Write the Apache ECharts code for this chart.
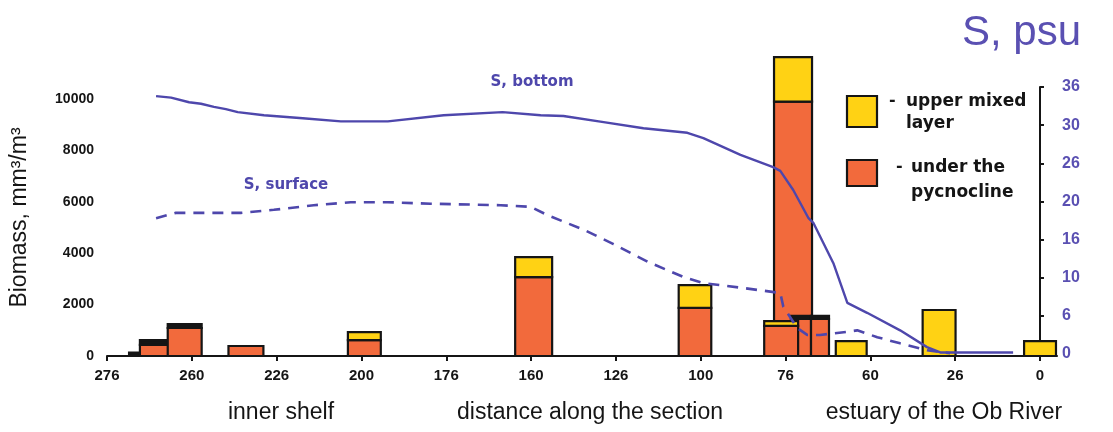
<!DOCTYPE html>
<html>
<head>
<meta charset="utf-8">
<script src="https://cdn.jsdelivr.net/npm/echarts@6/dist/echarts.min.js"></script>
<style>
html,body{margin:0;padding:0;background:#fff;}
#chart{width:1113px;height:432px;}
</style>
</head>
<body>
<div id="chart"></div>
<script>
// ---- data ----
// distance ticks (km along the section) and their printed labels
const xTickValues = [275, 250, 225, 200, 175, 150, 125, 100, 75, 50, 25, 0];
const xTickLabels = ['276', '260', '226', '200', '176', '160', '126', '100', '76', '60', '26', '0'];
// salinity axis tick labels (values 0..35 step 5)
const sTickValues = [0, 5, 10, 15, 20, 25, 30, 35];
const sTickLabels = ['0', '6', '10', '16', '20', '26', '30', '36'];
// biomass axis ticks
const bTickValues = [0, 2000, 4000, 6000, 8000, 10000];
const bTickLabels = ['0', '2000', '4000', '6000', '8000', '10000'];

// biomass bars: distance span (from, to), under the pycnocline, upper mixed layer, dark top
const barFrom  = [268.5, 265.3, 257.1, 239.2, 204.0, 154.7, 106.5, 78.4, 73.4, 67.5, 81.3, 60.2, 34.6, 4.7];
const barTo    = [265.0, 255.3, 247.1, 228.9, 194.3, 143.8, 96.9, 67.2, 67.5, 62.2, 71.3, 51.1, 24.9, -4.7];
const underPyc = [0, 430, 1090, 390, 620, 3070, 1870, 9900, 1440, 1440, 1170, 0, 0, 0];
const upperMix = [0, 0, 0, 0, 310, 780, 890, 1730, 0, 0, 190, 580, 1790, 580];
const darkTop  = [130, 190, 155, 0, 0, 0, 0, 0, 120, 120, 0, 0, 0, 0];

// salinity, bottom
const bottomDist = [259.7, 255.3, 250.0, 246.5, 242.7, 239.2, 235.7, 228.0, 216.6, 205.4, 191.6, 175.2, 157.9, 146.7, 140.0, 128.2, 116.5, 103.6, 98.9, 88.0, 78.4, 76.3, 72.5, 68.0, 66.6, 60.7, 56.6, 50.8, 41.1, 33.2, 29.3, 7.9];
const bottomS    = [33.8, 33.6, 33.0, 32.8, 32.4, 32.1, 31.7, 31.3, 30.9, 30.5, 30.5, 31.3, 31.7, 31.3, 31.2, 30.4, 29.6, 29.0, 28.3, 26.1, 24.5, 24.0, 21.5, 17.8, 17.2, 11.9, 6.7, 5.4, 3.1, 0.9, 0.2, 0.2];
// salinity, surface
const surfDist = [259.7, 253.9, 246.5, 234.8, 225.1, 213.4, 202.5, 191.6, 179.0, 158.5, 149.7, 144.7, 134.1, 125.3, 115.3, 104.8, 98.9, 88.0, 76.3, 75.4, 71.3, 68.4, 64.6, 56.6, 53.7, 47.8, 41.1, 33.2, 26.4];
const surfS    = [17.8, 18.5, 18.5, 18.5, 18.9, 19.5, 19.9, 19.9, 19.7, 19.5, 19.3, 18.2, 16.3, 14.4, 12.1, 10.1, 9.3, 8.7, 8.0, 6.2, 3.4, 2.5, 2.5, 2.9, 3.1, 2.2, 1.4, 0.5, 0.1];

// ---- styles ----
const ORANGE = '#F26A3C';
const YELLOW = '#FFD214';
const DARK = '#151515';
const BLUE = '#4E47AC';
const BLUE_LBL = '#5A50B2';

const barData = barFrom.map((f, i) => [f, barTo[i], underPyc[i], upperMix[i], darkTop[i]]);
const bottomData = bottomDist.map((d, i) => [d, bottomS[i]]);
const surfData = surfDist.map((d, i) => [d, surfS[i]]);

function renderBar(params, api) {
  const x0 = api.value(0), x1 = api.value(1);
  const segs = [[api.value(2), ORANGE], [api.value(3), YELLOW], [api.value(4), DARK]];
  let base = 0;
  const children = [];
  for (const [v, c] of segs) {
    if (v > 0) {
      const p0 = api.coord([x0, base + v]);
      const p1 = api.coord([x1, base]);
      children.push({
        type: 'rect',
        shape: { x: p0[0], y: p0[1], width: p1[0] - p0[0], height: p1[1] - p0[1] },
        style: { fill: c, stroke: DARK, lineWidth: 2.2 }
      });
      base += v;
    }
  }
  return { type: 'group', children };
}

const chart = echarts.init(document.getElementById('chart'), null, { renderer: 'canvas' });

const xCommon = {
  type: 'value', min: -5, max: 275, inverse: true,
  splitLine: { show: false }
};

const option = {
  backgroundColor: '#ffffff',
  animation: false,
  grid: [
    { left: 104, right: 56, top: 99, bottom: 76 },
    { left: 104, right: 56, top: 87, bottom: 78 }
  ],
  xAxis: [
    Object.assign({}, xCommon, {
      gridIndex: 0,
      axisLine: { show: true, lineStyle: { color: DARK, width: 2 } },
      axisTick: { show: true, length: 5, lineStyle: { color: DARK, width: 2 }, customValues: xTickValues },
      axisLabel: {
        customValues: xTickValues,
        margin: 12,
        color: DARK, fontSize: 15, fontWeight: 'bold', fontFamily: 'Liberation Sans, Arial, sans-serif',
        formatter: v => xTickLabels[xTickValues.indexOf(v)]
      }
    }),
    Object.assign({}, xCommon, {
      gridIndex: 1, show: false
    })
  ],
  yAxis: [
    {
      type: 'value', gridIndex: 0, min: 0, max: 10000, interval: 2000,
      position: 'left',
      name: 'Biomass, mm³/m³', nameLocation: 'middle', nameGap: 76, nameRotate: 90,
      nameTextStyle: { color: DARK, fontSize: 23, fontFamily: 'Liberation Sans, Arial, sans-serif', padding: [0, 0, 0, 20] },
      axisLine: { show: true, lineStyle: { color: DARK, width: 2 } },
      axisTick: { show: false },
      splitLine: { show: false },
      axisLabel: {
        margin: 13, color: DARK, fontSize: 14, fontWeight: 'bold', fontFamily: 'Liberation Sans, Arial, sans-serif',
        formatter: v => bTickLabels[bTickValues.indexOf(v)]
      }
    },
    {
      type: 'value', gridIndex: 1, min: 0, max: 35, interval: 5,
      position: 'right',
      axisLine: { show: true, lineStyle: { color: DARK, width: 2 } },
      axisTick: { show: true, inside: false, length: 4, lineStyle: { color: DARK, width: 2 } },
      splitLine: { show: false },
      axisLabel: {
        margin: 5, color: BLUE_LBL, fontSize: 16, fontWeight: 'bold', fontFamily: 'Liberation Sans, Arial, sans-serif',
        formatter: v => sTickLabels[sTickValues.indexOf(v)]
      }
    }
  ],
  series: [
    {
      name: 'biomass', type: 'custom', xAxisIndex: 0, yAxisIndex: 0,
      renderItem: renderBar, data: barData, clip: false, z: 2,
      encode: { x: [0, 1], y: [2, 3, 4] }
    },
    {
      name: 'S, bottom', type: 'line', xAxisIndex: 1, yAxisIndex: 1,
      data: bottomData, showSymbol: false, symbol: 'none', z: 5,
      lineStyle: { color: BLUE, width: 2.4 }
    },
    {
      name: 'S, surface', type: 'line', xAxisIndex: 1, yAxisIndex: 1,
      data: surfData, showSymbol: false, symbol: 'none', z: 5,
      lineStyle: { color: BLUE, width: 2.6, type: [11, 8] }
    }
  ],
  graphic: [
    { type: 'text', left: 962, top: 12, z: 10,
      style: { text: 'S, psu', fill: BLUE_LBL, font: '42px "Liberation Sans", Arial, sans-serif' } },
    { type: 'text', x: 532, y: 82, z: 10,
      style: { text: 'S, bottom', fill: BLUE, align: 'center', verticalAlign: 'middle', font: 'bold 15px "DejaVu Sans", sans-serif' } },
    { type: 'text', x: 286, y: 185, z: 10,
      style: { text: 'S, surface', fill: BLUE, align: 'center', verticalAlign: 'middle', font: 'bold 15px "DejaVu Sans", sans-serif' } },
    // legend
    { type: 'rect', z: 10, shape: { x: 847, y: 96, width: 30, height: 31 }, style: { fill: YELLOW, stroke: DARK, lineWidth: 2.2 } },
    { type: 'text', x: 889, y: 101, z: 10, style: { text: '-', fill: DARK, verticalAlign: 'middle', font: 'bold 16px "DejaVu Sans", sans-serif' } },
    { type: 'text', x: 906, y: 102, z: 10, style: { text: 'upper mixed', fill: DARK, verticalAlign: 'middle', font: 'bold 17px "DejaVu Sans", sans-serif' } },
    { type: 'text', x: 906, y: 124, z: 10, style: { text: 'layer', fill: DARK, verticalAlign: 'middle', font: 'bold 17px "DejaVu Sans", sans-serif' } },
    { type: 'rect', z: 10, shape: { x: 847, y: 160, width: 30, height: 26 }, style: { fill: ORANGE, stroke: DARK, lineWidth: 2.2 } },
    { type: 'text', x: 896, y: 167, z: 10, style: { text: '-', fill: DARK, verticalAlign: 'middle', font: 'bold 16px "DejaVu Sans", sans-serif' } },
    { type: 'text', x: 911, y: 168, z: 10, style: { text: 'under the', fill: DARK, verticalAlign: 'middle', font: 'bold 17px "DejaVu Sans", sans-serif' } },
    { type: 'text', x: 911, y: 193, z: 10, style: { text: 'pycnocline', fill: DARK, verticalAlign: 'middle', font: 'bold 17px "DejaVu Sans", sans-serif' } },
    // bottom captions
    { type: 'text', x: 281, y: 413, z: 10, style: { text: 'inner shelf', fill: DARK, align: 'center', verticalAlign: 'middle', font: '23px "Liberation Sans", Arial, sans-serif' } },
    { type: 'text', x: 590, y: 413, z: 10, style: { text: 'distance along the section', fill: DARK, align: 'center', verticalAlign: 'middle', font: '23px "Liberation Sans", Arial, sans-serif' } },
    { type: 'text', x: 944, y: 413, z: 10, style: { text: 'estuary of the Ob River', fill: DARK, align: 'center', verticalAlign: 'middle', font: '23px "Liberation Sans", Arial, sans-serif' } }
  ]
};
chart.setOption(option);
</script>
</body>
</html>
